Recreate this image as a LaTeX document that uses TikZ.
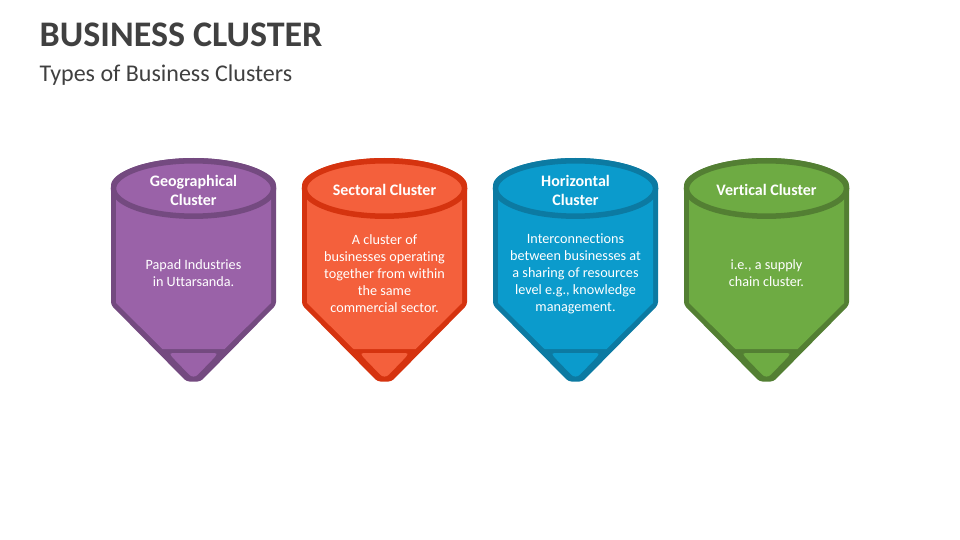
\documentclass[tikz,border=0pt]{standalone}
\usepackage{fontspec}
\setmainfont[Ligatures=NoCommon]{Carlito}
\definecolor{pf}{HTML}{9A62A8}\definecolor{pd}{HTML}{744A80}
\definecolor{of}{HTML}{F4603C}\definecolor{od}{HTML}{D5330F}
\definecolor{bf}{HTML}{0B9BCC}\definecolor{bd}{HTML}{0C7AA2}
\definecolor{gf}{HTML}{6EAB43}\definecolor{gd}{HTML}{537F33}
\definecolor{ink}{HTML}{404040}
\tikzset{
  headtxt/.style={text=white,font=\fontsize{16}{19}\selectfont\bfseries,align=center,inner sep=0pt},
  bodytxt/.style={text=white,font=\fontsize{14.2}{17}\selectfont,align=center,inner sep=0pt},
}
\newcommand{\cardshape}[3]{%
 \begin{scope}[shift={(#1,0)}]
  \fill[#3,rounded corners=3pt] (-82.5,305) -- (-82.5,188.5) arc[start angle=180,end angle=0,x radius=82.5,y radius=-30.5] -- (82.5,305) -- (7,381.5) -- (-7,381.5) -- cycle;
  \fill[#2] (-77.5,190) -- (-77.5,303) -- (-31,349) -- (31,349) -- (77.5,303) -- (77.5,190) -- cycle;
  \fill[#2] (-16.5,353) -- (16.5,353) .. controls (25,353) .. (18.5,360) -- (4.5,374.5) .. controls (2,377.3) and (-2,377.3) .. (-4.5,374.5) -- (-18.5,360) .. controls (-25,353) .. (-16.5,353) -- cycle;
  \draw[#3,fill=#2,line width=5.5pt] (0,188.5) ellipse[x radius=80,y radius=27.7];
 \end{scope}}
\begin{document}
\begin{tikzpicture}[x=1pt,y=-1pt]
\useasboundingbox (0,0) rectangle (960,540);
\node[anchor=base west,inner sep=0pt,text=ink,font=\fontsize{36}{40}\selectfont\bfseries] (title) at (39.5,46.5) {BUSINESS CLUSTER};
\node[anchor=base west,inner sep=0pt,text=ink,font=\fontsize{24}{28}\selectfont] (sub) at (39.5,81.5) {Types of Business Clusters};
\cardshape{193.5}{pf}{pd}
\cardshape{384.5}{of}{od}
\cardshape{575.5}{bf}{bd}
\cardshape{766.5}{gf}{gd}
\node[headtxt] (h1) at (193.5,190) {Geographical\\Cluster};
\node[headtxt] (h2) at (384.5,190) {Sectoral Cluster};
\node[headtxt] (h3) at (575.5,190) {Horizontal\\Cluster};
\node[headtxt] (h4) at (766.5,190) {Vertical Cluster};
\node[bodytxt] (b1) at (193.5,273.5) {Papad Industries\\in Uttarsanda.};
\node[bodytxt] (b2) at (384.5,273.5) {A cluster of\\businesses operating\\together from within\\the same\\commercial sector.};
\node[bodytxt] (b3) at (575.5,273.5) {Interconnections\\between businesses at\\a sharing of resources\\level e.g., knowledge\\management.};
\node[bodytxt] (b4) at (766.5,273.5) {i.e., a supply\\chain cluster.};
\end{tikzpicture}
\end{document}
